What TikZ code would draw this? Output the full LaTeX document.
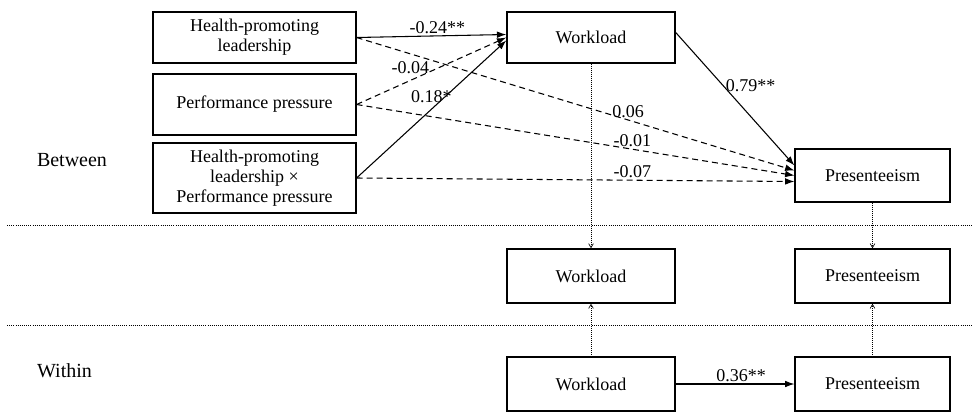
\documentclass[tikz,border=0pt]{standalone}
\usepackage{fontspec}
\setmainfont{Liberation Serif}
\usetikzlibrary{arrows.meta, positioning, calc}

\tikzset{
  varbox/.style={draw, line width=1.1pt, align=center, inner sep=2pt,
    font=\fontsize{13.5}{15}\selectfont},
  sigpath/.style={-{Latex[length=7pt,width=5pt]}, line width=0.8pt},
  nspath/.style={sigpath, dash pattern=on 4.5pt off 3pt},
  splitpath/.style={-{Straight Barb[length=3pt,width=3.5pt]}, densely dotted, line width=0.5pt},
  levelline/.style={densely dotted, line width=0.6pt},
  coef/.style={font=\fontsize{13.5}{15}\selectfont, inner sep=1.5pt},
  levellabel/.style={font=\fontsize{15}{17}\selectfont},
}

\begin{document}
\begin{tikzpicture}[x=0.75pt, y=-0.75pt]
  \useasboundingbox (0,0) rectangle (973,411);
  \clip (0,0) rectangle (973,411);

  % level separators
  \draw[levelline] (7,225) -- (973,225);
  \draw[levelline] (7,325) -- (973,325);

  \node[levellabel] (btw) at (72,160) {Between};
  \node[levellabel] (wth) at (64.5,371) {Within};

  % between level
  \node[varbox, minimum width=152pt, minimum height=38pt] (hpl) at (254.5,37.5)
        {Health-promoting\\leadership};
  \node[varbox, minimum width=152pt, minimum height=45.75pt] (pp) at (254.5,104.5)
        {Performance pressure};
  \node[varbox, minimum width=152pt, minimum height=52.5pt] (hxp) at (254.5,178)
        {Health-promoting\\leadership ×\\Performance pressure};
  \node[varbox, minimum width=126pt, minimum height=38pt] (wl) at (591,37.5) {Workload};
  \node[varbox, minimum width=116pt, minimum height=39.75pt] (pres) at (872.5,175.5) {Presenteeism};

  % latent split
  \node[varbox, minimum width=126pt, minimum height=40.5pt] (wlb) at (591,276) {Workload};
  \node[varbox, minimum width=116pt, minimum height=40.5pt] (presb) at (872.5,276) {Presenteeism};

  % within level
  \node[varbox, minimum width=126pt, minimum height=40.5pt] (wlw) at (591,384) {Workload};
  \node[varbox, minimum width=116pt, minimum height=40.5pt] (presw) at (872.5,384) {Presenteeism};

  \draw[splitpath] (wl.south) -- (wlb.north);
  \draw[splitpath] (pres.south) -- (presb.north);
  \draw[splitpath] (wlw.north) -- (wlb.south);
  \draw[splitpath] (presw.north) -- (presb.south);

  % paths
  \draw[sigpath] (hpl.east) -- ($(wl.west)+(0,-3)$)
        node[coef, pos=0.54, above] {-0.24**};
  \draw[nspath] (pp.east) -- ($(wl.west)+(0,0)$)
        node[coef, pos=0.36, above=3pt] {-0.04};
  \draw[sigpath] (hxp.east) -- ($(wl.west)+(0,3)$)
        node[coef, pos=0.5, above=3pt] {0.18*};
  \draw[sigpath] ($(wl.east)+(0,-5)$) -- ($(pres.west)+(0,-10)$)
        node[coef, pos=0.4, right] {0.79**};
  \draw[nspath] (hpl.east) -- ($(pres.west)+(0,-5)$)
        node[coef, pos=0.62, above] {0.06};
  \draw[nspath] (pp.east) -- ($(pres.west)+(0,0)$)
        node[coef, pos=0.63, above] {-0.01};
  \draw[nspath] (hxp.east) -- ($(pres.west)+(0,6)$)
        node[coef, pos=0.63, above] {-0.07};
  \draw[sigpath] (wlw.east) -- (presw.west)
        node[coef, pos=0.55, above] {0.36**};
\end{tikzpicture}
\end{document}
